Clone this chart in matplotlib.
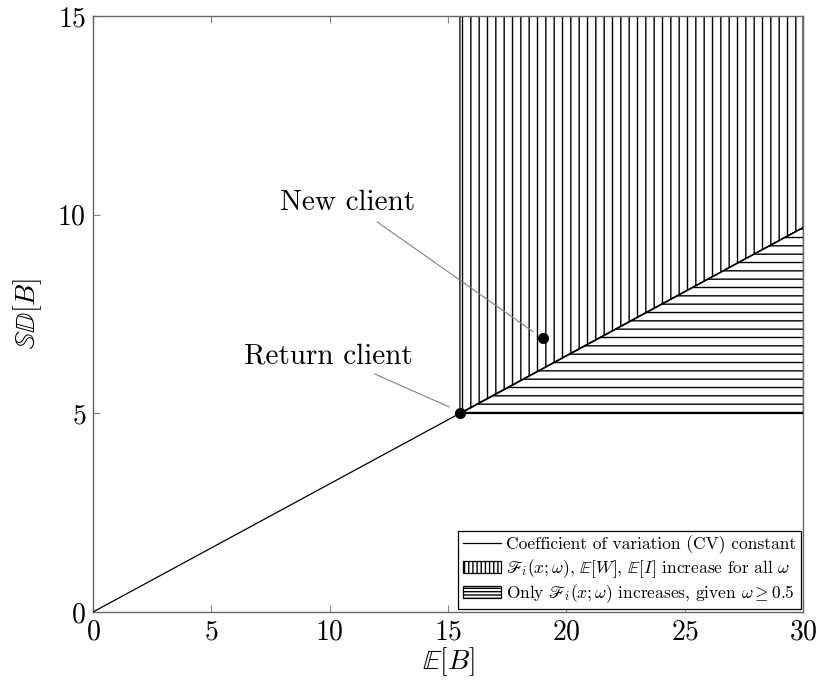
import matplotlib
matplotlib.use("Agg")
import matplotlib.pyplot as plt
import matplotlib.patches as mpatches
from matplotlib.lines import Line2D
import numpy as np

plt.rcParams["font.family"] = "serif"
plt.rcParams["font.serif"] = ["cmr10"]
plt.rcParams["mathtext.fontset"] = "cm"
plt.rcParams["axes.formatter.use_mathtext"] = True
plt.rcParams["hatch.linewidth"] = 1.0

# Client positions (mean, standard deviation of B)
return_client = (15.5, 5.0)
new_client = (19.0, 6.9)

x_max = 30
y_max = 15
x_ticks = [0, 5, 10, 15, 20, 25, 30]
y_ticks = [0, 5, 10, 15]

labels = [
    r"Coefficient of variation (CV) constant",
    r"$\mathscr{F}_i(x;\omega)$, $\mathbb{E}[W]$, $\mathbb{E}[I]$ increase for all $\omega$",
    r"Only $\mathscr{F}_i(x;\omega)$ increases, given $\omega \geq 0.5$",
]

fig = plt.figure(figsize=(8.19, 6.89), dpi=100)
ax = fig.add_axes([0.1136, 0.1118, 0.867, 0.865])

cv = return_client[1] / return_client[0]
xs = np.array([0, x_max])
ax.plot(xs, cv * xs, color="black", lw=0.9, zorder=3)

x0 = return_client[0]
# vertical hatch: above the constant-CV line
vert = mpatches.Polygon(
    [(x0, cv * x0), (x_max, cv * x_max), (x_max, y_max), (x0, y_max)],
    closed=True, facecolor="white", edgecolor="black", hatch="||", lw=0.9, zorder=2)
ax.add_patch(vert)
# horizontal hatch: between SD = 5 and the constant-CV line
horiz = mpatches.Polygon(
    [(x0, return_client[1]), (x_max, return_client[1]), (x_max, cv * x_max)],
    closed=True, facecolor="white", edgecolor="black", hatch="--", lw=0.9, zorder=2)
ax.add_patch(horiz)

ax.plot(*return_client, "o", color="black", ms=7, zorder=5)
ax.plot(*new_client, "o", color="black", ms=7, zorder=5)

# pins
ax.annotate("", xy=(18.6, 7.05), xytext=(12.0, 9.82),
            arrowprops=dict(arrowstyle="-", color="gray", lw=0.8, shrinkA=0, shrinkB=0))
ax.text(10.77, 10.3, "New client", ha="center", va="center", fontsize=21)
ax.annotate("", xy=(15.05, 5.16), xytext=(11.9, 5.99),
            arrowprops=dict(arrowstyle="-", color="gray", lw=0.8, shrinkA=0, shrinkB=0))
ax.text(9.93, 6.44, "Return client", ha="center", va="center", fontsize=21)

ax.set_xlim(0, x_max)
ax.set_ylim(0, y_max)
ax.set_xticks(x_ticks)
ax.set_yticks(y_ticks)
ax.tick_params(direction="in", length=5, width=0.8, color="#888888",
               top=True, right=True, labelsize=20, pad=5)
for s in ax.spines.values():
    s.set_color("#666666")
    s.set_linewidth(1.0)
ax.set_xlabel(r"$\mathbb{E}[B]$", fontsize=20, labelpad=0)
ax.set_ylabel(r"$\mathbb{SD}[B]$", fontsize=20, labelpad=10)

handles = [
    Line2D([], [], color="black", lw=0.9),
    mpatches.Patch(facecolor="white", edgecolor="black", hatch="||||", lw=0.9),
    mpatches.Patch(facecolor="white", edgecolor="black", hatch="-----", lw=0.9),
]
leg = ax.legend(handles, labels, loc="lower right", fontsize=12.5, frameon=True,
                fancybox=False, edgecolor="black", framealpha=1, borderaxespad=0.15,
                handlelength=2.2, handletextpad=0.3, labelspacing=0.15, borderpad=0.25)
leg.get_frame().set_linewidth(0.9)
leg.set_zorder(10)

fig.savefig("out.png", dpi=100)
